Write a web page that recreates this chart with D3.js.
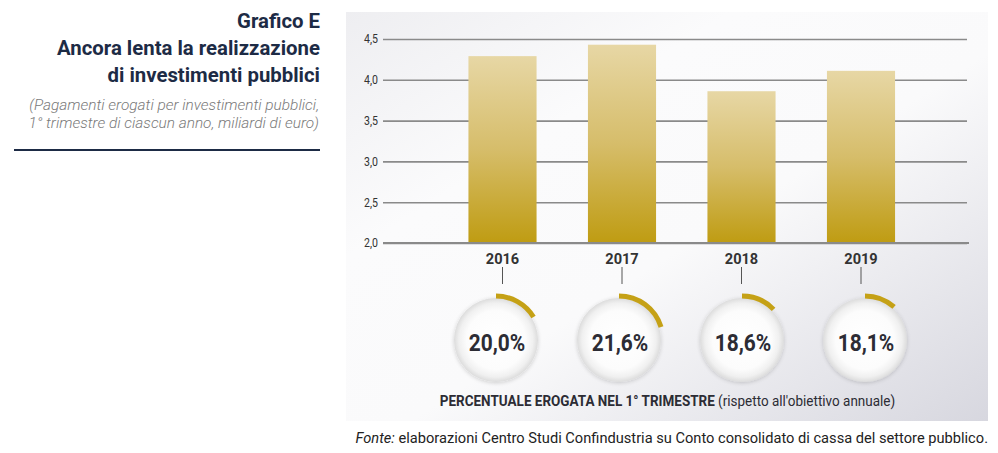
<!DOCTYPE html>
<html><head><meta charset="utf-8">
<script src="https://cdn.jsdelivr.net/npm/d3@7"></script>
<style>
html,body{margin:0;padding:0;background:#fff;}
svg{display:block;font-family:Roboto,"Noto Sans",sans-serif;}
</style></head>
<body><svg id="c" width="998" height="453"></svg>
<script>
const years = ["2016","2017","2018","2019"];
const payments = [4.29, 4.43, 3.86, 4.11];
const shares = [20.0, 21.6, 18.6, 18.1];
const yTicks = [2.0, 2.5, 3.0, 3.5, 4.0, 4.5];
const titleLines = ["Grafico E","Ancora lenta la realizzazione","di investimenti pubblici"];
const subtitleLines = ["(Pagamenti erogati per investimenti pubblici,","1° trimestre di ciascun anno, miliardi di euro)"];

const svg = d3.select("#c");
const defs = svg.append("defs");
const fmt = d3.formatLocale({decimal:",",thousands:".",grouping:[3],currency:["","€"]});
const f1 = fmt.format(".1f");

// gradients
const bg = defs.append("linearGradient").attr("id","bg").attr("x1","0").attr("y1","0").attr("x2","1").attr("y2","1");
[[0,"#eeeef1"],[0.3,"#fbfbfc"],[0.55,"#fafafb"],[1,"#d7d7df"]].forEach(s=>bg.append("stop").attr("offset",s[0]).attr("stop-color",s[1]));
const bar = defs.append("linearGradient").attr("id","bar").attr("x1","0").attr("y1","0").attr("x2","0").attr("y2","1");
[[0,"#e7d7a5"],[0.5,"#d6bd6a"],[1,"#bf9c12"]].forEach(s=>bar.append("stop").attr("offset",s[0]).attr("stop-color",s[1]));
const rg = defs.append("radialGradient").attr("id","disc").attr("cx","0.5").attr("cy","0.5").attr("r","0.5");
[[0,"#ffffff"],[0.7,"#fcfcfc"],[0.88,"#f0f0f0"],[1,"#dcdcdc"]].forEach(s=>rg.append("stop").attr("offset",s[0]).attr("stop-color",s[1]));
const sh = defs.append("filter").attr("id","sh").attr("x","-30%").attr("y","-30%").attr("width","160%").attr("height","160%");
sh.append("feGaussianBlur").attr("in","SourceAlpha").attr("stdDeviation","2");
sh.append("feOffset").attr("dx","0").attr("dy","1").attr("result","b");
sh.append("feComponentTransfer").append("feFuncA").attr("type","linear").attr("slope","0.18");
const fm = sh.append("feMerge"); fm.append("feMergeNode"); fm.append("feMergeNode").attr("in","SourceGraphic");

// condensed text helper
function ctext(g, x, y, str, o){
  const t = g.append("text").attr("transform",`translate(${x},${y}) scale(${o.sx||0.85},1)`)
    .attr("text-anchor",o.anchor||"start")
    .attr("font-size",o.size).attr("font-weight",o.weight||"normal")
    .attr("font-style",o.style||"normal").attr("fill",o.fill||"#333");
  if(o.baseline) t.attr("dominant-baseline",o.baseline);
  if(str!==null) t.text(str);
  return t;
}

// left title block
const navy = "#1d2b45";
titleLines.forEach((l,i)=>ctext(svg,320,28+i*27,l,{anchor:"end",size:21,weight:"bold",fill:navy,sx:0.97}));
subtitleLines.forEach((l,i)=>svg.append("text").attr("x",319).attr("y",110+i*18).attr("text-anchor","end")
  .attr("font-size",15.4).attr("font-style","italic").attr("font-weight",300).attr("fill","#7a7a7a").text(l));
svg.append("line").attr("x1",14).attr("x2",320).attr("y1",150).attr("y2",150).attr("stroke",navy).attr("stroke-width",2);

// panel
svg.append("rect").attr("x",346).attr("y",12).attr("width",642).attr("height",409).attr("fill","url(#bg)");

// scales
const y = d3.scaleLinear().domain([2.0,4.5]).range([243,39]);
const x = d3.scaleBand().domain(years).range([442.75,920.75]).paddingInner(0.43).paddingOuter(0.215);
const xc = d3.scalePoint().domain(years).range([496,865]);
const ang = d3.scaleLinear().domain([13.5,53.5]).range([0,2*Math.PI]);

// y axis with gridlines
const ax = svg.append("g").attr("transform","translate(383,0)")
  .call(d3.axisLeft(y).tickValues(yTicks).tickFormat(f1).tickSize(-584).tickPadding(5));
ax.select(".domain").remove();
ax.selectAll(".tick line").attr("stroke","#8a8a8a").attr("stroke-width",1.6);
ax.selectAll(".tick text").attr("font-size",12).attr("fill","#333").attr("font-family","Roboto")
  .attr("transform","scale(0.88,1)").attr("x",-5/0.88);

// bars
svg.append("g").selectAll("rect").data(years).join("rect")
  .attr("x",d=>x(d)).attr("width",x.bandwidth())
  .attr("y",(d,i)=>y(payments[i])).attr("height",(d,i)=>y(2.0)-y(payments[i]))
  .attr("fill","url(#bar)");
svg.append("line").attr("x1",383).attr("x2",969).attr("y1",y(2.0)).attr("y2",y(2.0)).attr("stroke","#8a8a8a").attr("stroke-width",1.8);

// year labels and ticks
years.forEach(yr=>{
  const cx = x(yr)+x.bandwidth()/2;
  ctext(svg,cx,264,yr,{anchor:"middle",size:15.5,weight:"bold",fill:"#333",sx:0.94});
  svg.append("line").attr("x1",cx).attr("x2",cx).attr("y1",267).attr("y2",284).attr("stroke","#555").attr("stroke-width",1);
});

// donuts
const arc = d3.arc().innerRadius(41.5).outerRadius(46.5).startAngle(0);
years.forEach((yr,i)=>{
  const g = svg.append("g").attr("transform",`translate(${xc(yr)},340)`);
  g.append("circle").attr("r",42).attr("fill","url(#disc)").attr("filter","url(#sh)");
  g.append("path").attr("d",arc({endAngle:ang(shares[i])})).attr("fill","#c5a116");
  ctext(g,1,10.5,f1(shares[i])+"%",{anchor:"middle",size:24,weight:"bold",fill:"#2c2c34",sx:0.87});
});

// bottom caption
const cap = ctext(svg,667.5,406,null,{anchor:"middle",size:14.5,fill:"#2c2c34",sx:0.93});
cap.append("tspan").attr("font-weight","bold").text("PERCENTUALE EROGATA NEL 1° TRIMESTRE");
cap.append("tspan").text(" (rispetto all'obiettivo annuale)");

// source
const src = ctext(svg,988,443,null,{anchor:"end",size:14.5,fill:"#222",sx:1.01});
src.append("tspan").attr("font-style","italic").text("Fonte:");
src.append("tspan").text(" elaborazioni Centro Studi Confindustria su Conto consolidato di cassa del settore pubblico.");
</script></body></html>
